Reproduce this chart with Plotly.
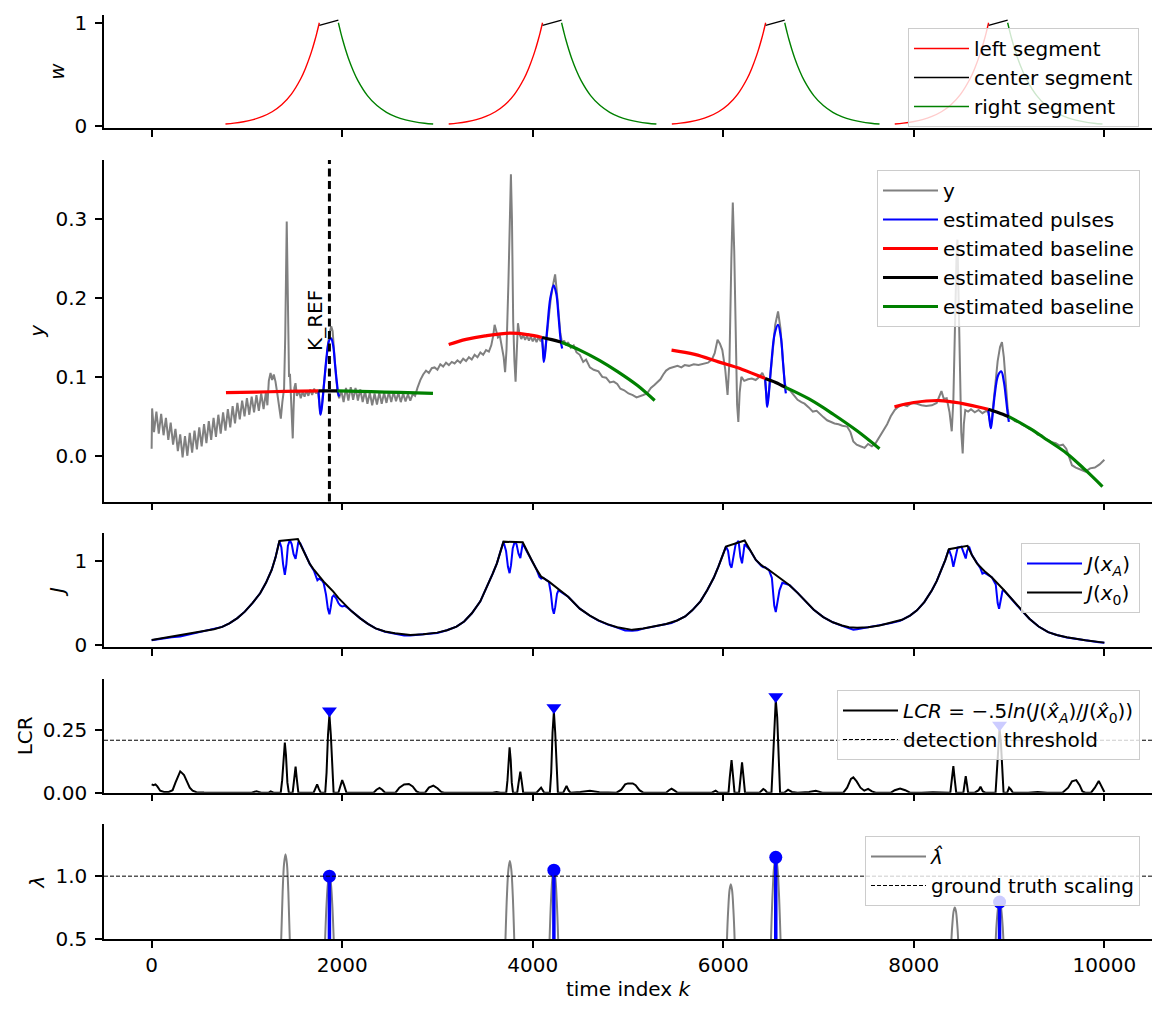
import plotly.graph_objects as go

# ---------------- data ----------------
X_TICKS = [0, 2000, 4000, 6000, 8000, 10000]
X_TICK_TEXT = ["0", "2000", "4000", "6000", "8000", "10000"]
X_RANGE = [-500, 10500]
K_REF = 1866

# weighting windows (relative offsets to window centres)
WIN_CENTERS = [1865, 4208, 6550, 8890]
W_LEFT_OFF = [-1090, -1000, -900, -800, -700, -600, -500, -400, -300, -250, -200, -175, -150, -130, -105]
W_LEFT_VAL = [0.019, 0.028, 0.042, 0.062, 0.093, 0.138, 0.206, 0.307, 0.458, 0.560, 0.684, 0.756, 0.835, 0.905, 1.000]
W_CENTER_OFF = [-105, 95]
W_CENTER_VAL = [0.975, 1.025]
W_RIGHT_OFF = [95, 120, 140, 170, 200, 250, 300, 400, 500, 600, 700, 800, 900, 1000, 1090]
W_RIGHT_VAL = [1.000, 0.905, 0.835, 0.741, 0.657, 0.538, 0.440, 0.295, 0.198, 0.133, 0.089, 0.060, 0.040, 0.027, 0.019]

# measured signal y
Y_SIGNAL = [
    (0, 0.009), (5, 0.060), (25, 0.030), (50, 0.056), (75, 0.028), (100, 0.053), (125, 0.026),
    (150, 0.048), (175, 0.020), (200, 0.042), (225, 0.014), (250, 0.034), (275, 0.006),
    (300, 0.027), (325, -0.002), (350, 0.025), (375, 0.000), (400, 0.029), (425, 0.004),
    (450, 0.032), (475, 0.008), (500, 0.036), (525, 0.012), (550, 0.040), (575, 0.016),
    (600, 0.044), (625, 0.020), (650, 0.048), (675, 0.024), (700, 0.052), (725, 0.028),
    (750, 0.055), (775, 0.032), (800, 0.059), (825, 0.036), (850, 0.063), (875, 0.041),
    (900, 0.067), (925, 0.046), (950, 0.070), (975, 0.050), (1000, 0.073), (1025, 0.052),
    (1050, 0.075), (1075, 0.055), (1100, 0.077), (1125, 0.057), (1150, 0.079), (1175, 0.059),
    (1200, 0.081), (1215, 0.064),
    (1230, 0.095), (1248, 0.105), (1265, 0.096), (1282, 0.103), (1300, 0.094), (1320, 0.078),
    (1340, 0.058), (1356, 0.047), (1372, 0.068), (1390, 0.085), (1402, 0.150), (1411, 0.260),
    (1418, 0.297), (1425, 0.240), (1433, 0.130), (1442, 0.100), (1452, 0.104), (1462, 0.070),
    (1472, 0.030), (1481, 0.022), (1490, 0.060), (1498, 0.086), (1510, 0.092), (1525, 0.076),
    (1545, 0.083), (1565, 0.073), (1585, 0.081), (1605, 0.075), (1625, 0.083), (1645, 0.076),
    (1665, 0.084), (1685, 0.077), (1705, 0.085), (1725, 0.079), (1745, 0.083),
    (1760, 0.066), (1772, 0.053), (1785, 0.062), (1810, 0.095), (1840, 0.128), (1865, 0.155),
    (1885, 0.164), (1900, 0.158), (1915, 0.130), (1935, 0.100), (1952, 0.080), (1968, 0.073),
    (1990, 0.083), (2015, 0.068), (2040, 0.086), (2065, 0.070), (2090, 0.087), (2115, 0.071),
    (2140, 0.086), (2165, 0.070), (2190, 0.084), (2215, 0.068), (2240, 0.082), (2265, 0.066),
    (2290, 0.080), (2315, 0.064), (2340, 0.079), (2365, 0.065), (2390, 0.080), (2415, 0.066),
    (2440, 0.080), (2465, 0.067), (2490, 0.081), (2515, 0.068), (2540, 0.081), (2565, 0.069),
    (2590, 0.080), (2615, 0.068), (2640, 0.079), (2665, 0.069), (2690, 0.078), (2715, 0.070),
    (2740, 0.078), (2765, 0.076),
    (2790, 0.086), (2820, 0.096), (2850, 0.103), (2880, 0.108), (2910, 0.105), (2940, 0.111),
    (2970, 0.112), (3000, 0.109), (3030, 0.116), (3060, 0.113), (3090, 0.118), (3120, 0.115),
    (3150, 0.119), (3180, 0.117), (3210, 0.121), (3240, 0.118), (3270, 0.123), (3300, 0.120),
    (3330, 0.125), (3360, 0.122), (3390, 0.128), (3420, 0.125), (3450, 0.131), (3480, 0.128),
    (3510, 0.134), (3540, 0.132), (3565, 0.140), (3585, 0.152), (3600, 0.166), (3615, 0.158),
    (3635, 0.150), (3655, 0.152), (3675, 0.140), (3695, 0.125), (3710, 0.106), (3725, 0.135),
    (3745, 0.220), (3760, 0.320), (3771, 0.357), (3782, 0.300), (3795, 0.170), (3808, 0.120),
    (3820, 0.094), (3832, 0.130), (3845, 0.168), (3860, 0.155), (3880, 0.148), (3900, 0.153),
    (3920, 0.147), (3940, 0.152), (3960, 0.146), (3980, 0.151), (4000, 0.145), (4020, 0.150),
    (4040, 0.144), (4060, 0.150), (4080, 0.146), (4098, 0.148),
    (4108, 0.135), (4118, 0.122), (4130, 0.132), (4160, 0.170), (4190, 0.200), (4215, 0.218),
    (4235, 0.230), (4250, 0.212), (4270, 0.180), (4290, 0.155), (4310, 0.142),
    (4330, 0.146), (4350, 0.140), (4370, 0.144), (4400, 0.137), (4430, 0.140), (4460, 0.131),
    (4494, 0.128), (4530, 0.119), (4560, 0.122), (4600, 0.112), (4640, 0.109), (4690, 0.107),
    (4730, 0.100), (4770, 0.099), (4810, 0.093), (4850, 0.094), (4887, 0.091), (4920, 0.085),
    (4960, 0.083), (5005, 0.079), (5050, 0.077), (5090, 0.074), (5123, 0.075), (5160, 0.077),
    (5200, 0.079), (5240, 0.086), (5280, 0.090), (5310, 0.093), (5340, 0.097), (5370, 0.103),
    (5400, 0.108), (5437, 0.111), (5480, 0.113), (5520, 0.114), (5560, 0.112), (5595, 0.115),
    (5640, 0.114), (5690, 0.116), (5740, 0.115), (5790, 0.117), (5840, 0.118), (5880, 0.122),
    (5910, 0.130), (5940, 0.147), (5965, 0.142), (5990, 0.134), (6020, 0.110), (6045, 0.077),
    (6065, 0.120), (6085, 0.250), (6100, 0.321), (6115, 0.260), (6130, 0.130), (6145, 0.065),
    (6158, 0.043), (6172, 0.080), (6190, 0.100), (6220, 0.095), (6260, 0.097), (6300, 0.098),
    (6340, 0.096), (6380, 0.100), (6410, 0.105), (6435, 0.098),
    (6450, 0.080), (6462, 0.065), (6478, 0.080), (6510, 0.122), (6545, 0.166), (6575, 0.183),
    (6600, 0.162), (6625, 0.122), (6645, 0.092), (6665, 0.085),
    (6700, 0.083), (6740, 0.077), (6780, 0.071), (6820, 0.068), (6853, 0.066), (6900, 0.061),
    (6940, 0.056), (6980, 0.057), (7010, 0.053), (7050, 0.049), (7090, 0.045), (7130, 0.043),
    (7168, 0.041), (7210, 0.040), (7250, 0.038), (7300, 0.037), (7335, 0.030), (7365, 0.018),
    (7400, 0.014), (7440, 0.012), (7483, 0.010), (7520, 0.015), (7560, 0.012), (7600, 0.016),
    (7640, 0.024), (7680, 0.032), (7720, 0.040), (7758, 0.050), (7800, 0.058), (7837, 0.062),
    (7880, 0.065), (7930, 0.063), (7980, 0.067), (8033, 0.066), (8080, 0.064), (8130, 0.063),
    (8190, 0.064), (8240, 0.067), (8270, 0.076), (8290, 0.082), (8315, 0.072), (8345, 0.073),
    (8375, 0.055), (8398, 0.031), (8415, 0.070), (8435, 0.190), (8450, 0.262), (8458, 0.274),
    (8468, 0.210), (8482, 0.090), (8498, 0.030), (8513, 0.003), (8525, 0.040), (8540, 0.058),
    (8570, 0.056), (8600, 0.059), (8640, 0.055), (8680, 0.058), (8720, 0.054), (8760, 0.057),
    (8782, 0.055),
    (8795, 0.046), (8808, 0.037), (8822, 0.050), (8850, 0.085), (8880, 0.120), (8905, 0.138),
    (8925, 0.144), (8945, 0.125), (8965, 0.092), (8985, 0.060), (9000, 0.048),
    (9030, 0.048), (9060, 0.044), (9100, 0.043), (9140, 0.039), (9180, 0.037), (9213, 0.034),
    (9260, 0.032), (9300, 0.027), (9340, 0.026), (9380, 0.021), (9410, 0.020), (9450, 0.017),
    (9490, 0.016), (9530, 0.013), (9565, 0.014), (9600, 0.009), (9630, -0.002), (9660, -0.012),
    (9700, -0.015), (9750, -0.018), (9800, -0.020), (9850, -0.016), (9900, -0.015),
    (9950, -0.011), (10000, -0.005),
]

# estimated pulses
PULSES = [
    [(1751, 0.0825), (1760, 0.068), (1772, 0.052), (1785, 0.060), (1810, 0.092), (1835, 0.124),
     (1860, 0.145), (1884, 0.149), (1905, 0.140), (1925, 0.116), (1945, 0.092), (1960, 0.078),
     (1970, 0.075)],
    [(4098, 0.150), (4107, 0.134), (4116, 0.119), (4128, 0.128), (4155, 0.165), (4185, 0.200),
     (4220, 0.216), (4248, 0.205), (4272, 0.175), (4295, 0.145), (4309, 0.136)],
    [(6440, 0.098), (6450, 0.080), (6460, 0.062), (6473, 0.072), (6503, 0.115), (6540, 0.155),
     (6575, 0.166), (6605, 0.150), (6628, 0.117), (6648, 0.088), (6657, 0.079)],
    [(8781, 0.059), (8795, 0.045), (8808, 0.035), (8820, 0.044), (8850, 0.078), (8885, 0.102),
     (8918, 0.107), (8945, 0.094), (8970, 0.070), (8990, 0.049), (8998, 0.043)],
]

# estimated baselines: (left, center, right) per window
BASE_LEFT = [
    [(780, 0.0800), (1100, 0.0808), (1400, 0.0816), (1751, 0.0822)],
    [(3118, 0.141), (3300, 0.1475), (3500, 0.152), (3766, 0.1555), (3950, 0.1535), (4098, 0.150)],
    [(5457, 0.134), (5700, 0.1285), (5950, 0.119), (6200, 0.1095), (6440, 0.098)],
    [(7797, 0.062), (8000, 0.0675), (8270, 0.070), (8500, 0.0665), (8780, 0.059)],
]
BASE_CENTER = [
    [(1751, 0.0822), (1951, 0.0823)],
    [(4098, 0.150), (4200, 0.1472), (4302, 0.144)],
    [(6440, 0.098), (6550, 0.093), (6649, 0.087)],
    [(8780, 0.059), (8890, 0.0545), (8997, 0.0496)],
]
BASE_RIGHT = [
    [(1951, 0.0822), (2300, 0.0812), (2600, 0.0803), (2953, 0.0790)],
    [(4302, 0.144), (4494, 0.134), (4700, 0.121), (4887, 0.107), (5100, 0.089), (5280, 0.070)],
    [(6649, 0.087), (6900, 0.072), (7150, 0.053), (7400, 0.032), (7640, 0.009)],
    [(8997, 0.0496), (9213, 0.035), (9400, 0.020), (9606, 0.003), (9800, -0.018), (9980, -0.039)],
]

# cost J(x0)
J0 = [
    (0, 0.060), (100, 0.080), (210, 0.100), (300, 0.118), (412, 0.140), (520, 0.160), (654, 0.187),
    (740, 0.215), (816, 0.258), (900, 0.320), (978, 0.397), (1060, 0.500), (1139, 0.615),
    (1200, 0.740), (1260, 0.893), (1300, 1.040), (1341, 1.238), (1535, 1.262), (1580, 1.160),
    (1624, 1.050), (1660, 0.965), (1705, 0.893), (1760, 0.815), (1806, 0.754), (1860, 0.690),
    (1907, 0.635), (1960, 0.560), (2028, 0.476), (2100, 0.400), (2190, 0.317), (2270, 0.252),
    (2351, 0.198), (2450, 0.160), (2553, 0.139), (2630, 0.126), (2715, 0.119), (2850, 0.127),
    (2998, 0.147), (3100, 0.175), (3200, 0.218), (3280, 0.280), (3361, 0.377), (3450, 0.520),
    (3523, 0.694), (3580, 0.850), (3624, 0.972), (3660, 1.100), (3693, 1.230), (3895, 1.222),
    (3940, 1.110), (3988, 1.012), (4040, 0.900), (4089, 0.813), (4170, 0.754), (4270, 0.665),
    (4372, 0.575), (4494, 0.432), (4600, 0.350), (4690, 0.292), (4790, 0.245), (4887, 0.212),
    (5044, 0.180), (5160, 0.195), (5280, 0.220), (5400, 0.250), (5516, 0.292), (5600, 0.340),
    (5674, 0.412), (5760, 0.520), (5831, 0.652), (5900, 0.800), (5949, 0.932), (5990, 1.050),
    (6028, 1.172), (6224, 1.244), (6280, 1.130), (6342, 1.012), (6400, 0.950), (6480, 0.892),
    (6590, 0.800), (6696, 0.712), (6780, 0.620), (6853, 0.532), (6950, 0.420), (7050, 0.332),
    (7150, 0.270), (7247, 0.232), (7320, 0.212), (7404, 0.204), (7520, 0.212), (7640, 0.232),
    (7760, 0.262), (7876, 0.300), (7960, 0.350), (8033, 0.412), (8110, 0.510), (8190, 0.652),
    (8240, 0.760), (8289, 0.892), (8330, 1.010), (8368, 1.140), (8564, 1.180), (8610, 1.070),
    (8663, 0.972), (8740, 0.880), (8820, 0.804), (8940, 0.660), (9056, 0.512), (9140, 0.400),
    (9213, 0.312), (9310, 0.220), (9410, 0.152), (9500, 0.118), (9606, 0.092), (9800, 0.055),
    (10000, 0.028),
]

# cost J(xA)
JA = [
    (0, 0.055), (100, 0.074), (210, 0.092), (300, 0.101), (412, 0.128), (520, 0.158), (654, 0.187),
    (740, 0.215), (816, 0.258), (900, 0.320), (978, 0.397), (1060, 0.500), (1139, 0.615),
    (1200, 0.740), (1260, 0.893), (1300, 1.040), (1341, 1.238), (1362, 1.160), (1380, 0.960),
    (1398, 0.835), (1414, 0.960), (1430, 1.180), (1450, 1.250), (1470, 1.200), (1490, 1.080),
    (1511, 1.024), (1525, 1.120), (1540, 1.230), (1560, 1.210), (1580, 1.160), (1624, 1.050),
    (1660, 0.965), (1705, 0.880), (1725, 0.800), (1740, 0.770), (1760, 0.790), (1790, 0.765),
    (1806, 0.735), (1830, 0.600), (1850, 0.430), (1866, 0.365), (1880, 0.450), (1895, 0.570),
    (1910, 0.590), (1935, 0.560), (1960, 0.500), (1980, 0.470), (2000, 0.458), (2028, 0.466),
    (2060, 0.440), (2100, 0.400), (2190, 0.317), (2270, 0.252), (2351, 0.197), (2450, 0.158),
    (2553, 0.134), (2650, 0.114), (2715, 0.114), (2850, 0.125), (2998, 0.144), (3100, 0.175),
    (3200, 0.218), (3280, 0.280), (3361, 0.377), (3450, 0.520), (3523, 0.694), (3580, 0.850),
    (3624, 0.972), (3660, 1.100), (3693, 1.230), (3720, 1.120), (3740, 0.930), (3757, 0.855),
    (3772, 0.950), (3790, 1.150), (3810, 1.226), (3830, 1.200), (3850, 1.090), (3870, 1.035),
    (3885, 1.120), (3895, 1.210), (3940, 1.110), (3988, 1.012), (4040, 0.900), (4070, 0.810),
    (4089, 0.790), (4110, 0.800), (4170, 0.750), (4190, 0.620), (4208, 0.430), (4222, 0.372),
    (4236, 0.450), (4255, 0.610), (4270, 0.650), (4300, 0.630), (4340, 0.600), (4355, 0.585),
    (4372, 0.575), (4494, 0.432), (4600, 0.348), (4690, 0.290), (4790, 0.243), (4887, 0.207),
    (4970, 0.172), (5044, 0.168), (5100, 0.175), (5160, 0.195), (5280, 0.220), (5400, 0.249),
    (5457, 0.262), (5516, 0.292), (5600, 0.340), (5674, 0.412), (5760, 0.520), (5831, 0.652),
    (5900, 0.800), (5949, 0.932), (5990, 1.050), (6028, 1.172), (6050, 1.120), (6070, 0.960),
    (6087, 0.920), (6105, 1.020), (6130, 1.200), (6160, 1.240), (6180, 1.050), (6197, 0.972),
    (6212, 1.080), (6224, 1.200), (6280, 1.130), (6342, 1.012), (6400, 0.940), (6420, 0.925),
    (6440, 0.925), (6480, 0.892), (6510, 0.800), (6535, 0.470), (6551, 0.392), (6567, 0.480),
    (6590, 0.650), (6620, 0.740), (6696, 0.712), (6780, 0.620), (6853, 0.532), (6950, 0.418),
    (7050, 0.332), (7150, 0.270), (7247, 0.228), (7320, 0.195), (7365, 0.181), (7404, 0.188),
    (7460, 0.200), (7520, 0.208), (7640, 0.232), (7760, 0.260), (7856, 0.288), (7876, 0.298),
    (7960, 0.350), (8033, 0.412), (8110, 0.510), (8190, 0.652), (8240, 0.760), (8289, 0.892),
    (8330, 1.010), (8368, 1.140), (8395, 1.050), (8415, 0.930), (8432, 1.030), (8460, 1.160),
    (8500, 1.170), (8530, 1.060), (8545, 1.030), (8560, 1.120), (8580, 1.170), (8610, 1.070),
    (8663, 0.972), (8700, 0.910), (8720, 0.850), (8740, 0.860), (8820, 0.804), (8860, 0.720),
    (8880, 0.500), (8895, 0.432), (8910, 0.520), (8930, 0.640), (8945, 0.650), (8990, 0.590),
    (9056, 0.512), (9140, 0.400), (9213, 0.312), (9310, 0.220), (9410, 0.152), (9500, 0.118),
    (9606, 0.090), (9705, 0.068), (9800, 0.055), (9941, 0.032), (10000, 0.028),
]

# log-cost ratio
LCR = [
    (0, 0.033), (20, 0.030), (40, 0.033), (60, 0.025), (90, 0.008), (130, 0.003), (180, 0.003),
    (220, 0.010), (250, 0.040), (270, 0.060), (300, 0.085), (320, 0.078), (340, 0.070),
    (370, 0.045), (400, 0.020), (430, 0.008), (470, 0.002), (550, 0.001), (700, 0.000),
    (1050, 0.000), (1100, 0.006), (1150, 0.000), (1230, 0.000), (1250, 0.005), (1280, 0.000),
    (1355, 0.000), (1370, 0.050), (1385, 0.150), (1398, 0.200), (1410, 0.150), (1425, 0.040),
    (1440, 0.000), (1480, 0.000), (1495, 0.050), (1511, 0.104), (1525, 0.050), (1540, 0.000),
    (1700, 0.000), (1720, 0.015), (1737, 0.033), (1755, 0.015), (1775, 0.000), (1822, 0.000),
    (1836, 0.080), (1851, 0.230), (1866, 0.310), (1881, 0.230), (1896, 0.080), (1910, 0.000),
    (1960, 0.000), (1980, 0.030), (2000, 0.050), (2020, 0.030), (2045, 0.000), (2330, 0.000),
    (2360, 0.012), (2392, 0.019), (2420, 0.012), (2450, 0.000), (2560, 0.000), (2600, 0.020),
    (2650, 0.033), (2700, 0.035), (2740, 0.025), (2780, 0.005), (2810, 0.000), (2870, 0.000),
    (2910, 0.020), (2957, 0.028), (3000, 0.018), (3040, 0.003), (3070, 0.000), (3580, 0.000),
    (3620, 0.003), (3660, 0.000), (3722, 0.000), (3735, 0.050), (3745, 0.130), (3757, 0.181),
    (3769, 0.130), (3780, 0.040), (3793, 0.000), (3837, 0.000), (3852, 0.040), (3870, 0.084),
    (3886, 0.040), (3900, 0.000), (4040, 0.000), (4070, 0.015), (4088, 0.020), (4105, 0.010),
    (4120, 0.000), (4180, 0.000), (4194, 0.080), (4208, 0.240), (4222, 0.323), (4236, 0.240),
    (4250, 0.080), (4264, 0.000), (4320, 0.000), (4340, 0.020), (4355, 0.027), (4375, 0.010),
    (4395, 0.000), (4500, 0.003), (4600, 0.008), (4700, 0.002), (4880, 0.000), (4930, 0.012),
    (4970, 0.033), (5000, 0.037), (5050, 0.037), (5080, 0.030), (5120, 0.010), (5160, 0.000),
    (5400, 0.000), (5430, 0.010), (5457, 0.016), (5490, 0.008), (5520, 0.000), (5880, 0.000),
    (5920, 0.008), (5950, 0.000), (6055, 0.000), (6068, 0.060), (6087, 0.130), (6104, 0.060),
    (6118, 0.000), (6166, 0.000), (6180, 0.060), (6197, 0.121), (6213, 0.060), (6228, 0.000),
    (6380, 0.000), (6405, 0.012), (6420, 0.015), (6440, 0.010), (6460, 0.000), (6506, 0.000),
    (6521, 0.120), (6536, 0.300), (6551, 0.370), (6566, 0.300), (6581, 0.120), (6596, 0.000),
    (6640, 0.000), (6680, 0.012), (6720, 0.003), (6780, 0.000), (6900, 0.003), (6970, 0.008),
    (7040, 0.000), (7260, 0.000), (7300, 0.020), (7340, 0.055), (7365, 0.061), (7400, 0.045),
    (7440, 0.020), (7480, 0.008), (7520, 0.015), (7560, 0.005), (7600, 0.000), (7760, 0.000),
    (7800, 0.010), (7856, 0.017), (7910, 0.010), (7960, 0.000), (8080, 0.000), (8200, 0.002),
    (8383, 0.000), (8399, 0.050), (8415, 0.106), (8430, 0.050), (8445, 0.000), (8520, 0.000),
    (8531, 0.030), (8545, 0.066), (8559, 0.030), (8570, 0.000), (8640, 0.000), (8680, 0.010),
    (8700, 0.024), (8725, 0.005), (8750, 0.000), (8858, 0.000), (8871, 0.080), (8886, 0.200),
    (8900, 0.255), (8914, 0.200), (8929, 0.080), (8942, 0.000), (8980, 0.000), (9000, 0.020),
    (9020, 0.012), (9040, 0.000), (9200, 0.000), (9300, 0.003), (9400, 0.000), (9560, 0.000),
    (9620, 0.020), (9660, 0.045), (9705, 0.050), (9740, 0.030), (9770, 0.005), (9800, 0.000),
    (9860, 0.000), (9900, 0.020), (9941, 0.047), (9970, 0.025), (10000, 0.003),
]
LCR_THRESHOLD = 0.209

# detections
DET_K = [1866, 4222, 6551, 8900]
DET_LCR = [0.327, 0.339, 0.383, 0.270]
DET_LAMBDA = [1.000, 1.048, 1.150, 0.794]

# estimated scaling lambda-hat (humps; values below 0.5 fall outside view)
LAMBDA_HAT = [
    (0, 0.0), (1345, 0.0), (1360, 0.5), (1375, 0.874), (1390, 1.099), (1405, 1.174), (1420, 1.099),
    (1435, 0.874), (1450, 0.5), (1465, 0.0),
    (1800, 0.0), (1821, 0.5), (1836, 0.778), (1851, 0.944), (1866, 1.0), (1881, 0.944),
    (1896, 0.778), (1911, 0.5), (1932, 0.0),
    (3698, 0.0), (3714, 0.5), (3730, 0.856), (3745, 1.054), (3760, 1.12), (3775, 1.054),
    (3790, 0.856), (3806, 0.5), (3822, 0.0),
    (4160, 0.0), (4177, 0.5), (4192, 0.806), (4207, 0.989), (4222, 1.05), (4237, 0.989),
    (4252, 0.806), (4267, 0.5), (4284, 0.0),
    (6025, 0.0), (6039, 0.5), (6052, 0.737), (6066, 0.89), (6079, 0.936), (6092, 0.89),
    (6106, 0.737), (6119, 0.5), (6133, 0.0),
    (6485, 0.0), (6501, 0.5), (6518, 0.867), (6534, 1.075), (6551, 1.15), (6568, 1.075),
    (6584, 0.867), (6601, 0.5), (6617, 0.0),
    (8383, 0.0), (8395, 0.5), (8407, 0.642), (8418, 0.722), (8430, 0.75), (8442, 0.722),
    (8453, 0.642), (8465, 0.5), (8477, 0.0),
    (8846, 0.0), (8860, 0.5), (8873, 0.662), (8887, 0.761), (8900, 0.794), (8913, 0.761),
    (8927, 0.662), (8940, 0.5), (8954, 0.0),
    (10000, 0.0),
]
LAMBDA_TRUE = 1.0

# ---------------- figure ----------------
FONT = dict(family="DejaVu Sans", size=20, color="black")
RED, GREEN, BLUE, GREY = "#ff0000", "#008000", "#0000ff", "#808080"

def xs(pts):
    return [p[0] for p in pts]

def ys(pts):
    return [p[1] for p in pts]

fig = go.Figure()

# ---- panel 1: weights ----
for i, c in enumerate(WIN_CENTERS):
    fig.add_trace(go.Scatter(x=[c + o for o in W_LEFT_OFF], y=W_LEFT_VAL, mode="lines",
                             line=dict(color=RED, width=1.4, shape="spline"), name="left segment",
                             showlegend=(i == 0), legend="legend", xaxis="x", yaxis="y"))
    fig.add_trace(go.Scatter(x=[c + o for o in W_CENTER_OFF], y=W_CENTER_VAL, mode="lines",
                             line=dict(color="black", width=1.4), name="center segment",
                             showlegend=(i == 0), legend="legend", xaxis="x", yaxis="y",
                             legendrank=1001))
    fig.add_trace(go.Scatter(x=[c + o for o in W_RIGHT_OFF], y=W_RIGHT_VAL, mode="lines",
                             line=dict(color=GREEN, width=1.4, shape="spline"), name="right segment",
                             showlegend=(i == 0), legend="legend", xaxis="x", yaxis="y",
                             legendrank=1002))

# ---- panel 2: signal ----
fig.add_trace(go.Scatter(x=xs(Y_SIGNAL), y=ys(Y_SIGNAL), mode="lines",
                         line=dict(color=GREY, width=2), name="y", legend="legend2",
                         xaxis="x2", yaxis="y2"))
for i, p in enumerate(PULSES):
    fig.add_trace(go.Scatter(x=xs(p), y=ys(p), mode="lines",
                             line=dict(color=BLUE, width=2.2, shape="spline"),
                             name="estimated pulses", showlegend=(i == 0), legend="legend2",
                             xaxis="x2", yaxis="y2"))
for i in range(4):
    for seg, col in ((BASE_LEFT, RED), (BASE_CENTER, "black"), (BASE_RIGHT, GREEN)):
        fig.add_trace(go.Scatter(x=xs(seg[i]), y=ys(seg[i]), mode="lines",
                                 line=dict(color=col, width=3.2, shape="spline"),
                                 name="estimated baseline", showlegend=(i == 0),
                                 legend="legend2", xaxis="x2", yaxis="y2"))

# ---- panel 3: costs ----
fig.add_trace(go.Scatter(x=xs(JA), y=ys(JA), mode="lines", line=dict(color=BLUE, width=2),
                         name="<i>J</i>(<i>x<sub>A</sub></i>)", legend="legend3",
                         xaxis="x3", yaxis="y3"))
fig.add_trace(go.Scatter(x=xs(J0), y=ys(J0), mode="lines", line=dict(color="black", width=2),
                         name="<i>J</i>(<i>x</i><sub>0</sub>)", legend="legend3",
                         xaxis="x3", yaxis="y3"))

# ---- panel 4: LCR ----
fig.add_trace(go.Scatter(x=xs(LCR), y=ys(LCR), mode="lines", line=dict(color="black", width=2),
                         name="<i>LCR</i> = −.5<i>ln</i>(<i>J</i>(<i>x̂<sub>A</sub></i>)/<i>J</i>(<i>x̂</i><sub>0</sub>))",
                         legend="legend4", xaxis="x4", yaxis="y4"))
fig.add_trace(go.Scatter(x=X_RANGE, y=[LCR_THRESHOLD, LCR_THRESHOLD], mode="lines",
                         line=dict(color="black", width=1, dash="4px,2px"),
                         name="detection threshold", legend="legend4", xaxis="x4", yaxis="y4"))
fig.add_trace(go.Scatter(x=DET_K, y=DET_LCR, mode="markers",
                         marker=dict(symbol="triangle-down", size=13, color=BLUE),
                         showlegend=False, xaxis="x4", yaxis="y4"))

# ---- panel 5: lambda ----
fig.add_trace(go.Scatter(x=xs(LAMBDA_HAT), y=ys(LAMBDA_HAT), mode="lines",
                         line=dict(color=GREY, width=2, shape="spline"), name="<i>λ̂</i>",
                         legend="legend5", xaxis="x5", yaxis="y5"))
stem_x, stem_y = [], []
for k, v in zip(DET_K, DET_LAMBDA):
    stem_x += [k, k, None]
    stem_y += [0, v, None]
fig.add_trace(go.Scatter(x=stem_x, y=stem_y, mode="lines", line=dict(color=BLUE, width=3.5),
                         showlegend=False, xaxis="x5", yaxis="y5"))
fig.add_trace(go.Scatter(x=DET_K, y=DET_LAMBDA, mode="markers",
                         marker=dict(symbol="circle", size=13, color=BLUE),
                         showlegend=False, xaxis="x5", yaxis="y5"))
fig.add_trace(go.Scatter(x=X_RANGE, y=[LAMBDA_TRUE, LAMBDA_TRUE], mode="lines",
                         line=dict(color="black", width=1, dash="4px,2px"),
                         name="ground truth scaling", legend="legend5", xaxis="x5", yaxis="y5"))

# K_REF marker line and label
fig.add_shape(type="line", x0=K_REF, x1=K_REF, y0=0, y1=1, xref="x2", yref="y2 domain",
              line=dict(color="black", width=3, dash="8px,4.5px"), layer="above")
fig.add_annotation(x=1715, y=0.171, xref="x2", yref="y2", text="K_REF", textangle=-90,
                   showarrow=False, font=FONT)

# ---------------- layout ----------------
PLOT_TOP, PLOT_BOTTOM = 15, 939
H = PLOT_BOTTOM - PLOT_TOP

def dom(top_px, bottom_px):
    return [(PLOT_BOTTOM - bottom_px) / H, (PLOT_BOTTOM - top_px) / H]

def xax(anchor, labels):
    return dict(range=X_RANGE, domain=[0, 1], anchor=anchor, showline=True, linecolor="black",
                linewidth=1.5, ticks="outside", ticklen=7, tickwidth=1.5, tickcolor="black",
                tickvals=X_TICKS, ticktext=X_TICK_TEXT, showticklabels=labels, showgrid=False,
                zeroline=False, tickfont=FONT)

def yax(anchor, rng, domain, tickvals, fmt, title):
    return dict(range=rng, domain=domain, anchor=anchor, showline=True, linecolor="black",
                linewidth=1.5, ticks="outside", ticklen=7, tickwidth=1.5, tickcolor="black",
                tickvals=tickvals, tickformat=fmt, showgrid=False, zeroline=False,
                tickfont=FONT, ticklabelstandoff=4,
                title=dict(text=title, font=FONT, standoff=5))

def legend_at(x_px, top_px):
    return dict(x=(x_px - 104) / 1048, y=(PLOT_BOTTOM - top_px) / H, xanchor="right",
                yanchor="top", bgcolor="rgba(255,255,255,0.8)", bordercolor="#cccccc",
                borderwidth=1, font=FONT, itemwidth=55)

fig.update_layout(
    width=1165, height=1017,
    margin=dict(l=104, r=13, t=PLOT_TOP, b=1017 - PLOT_BOTTOM),
    paper_bgcolor="white", plot_bgcolor="white", font=FONT,
    xaxis=xax("y", False),
    xaxis2=xax("y2", False),
    xaxis3=xax("y3", False),
    xaxis4=xax("y4", False),
    xaxis5=dict(xax("y5", True), title=dict(text="time index <i>k</i>", font=FONT, standoff=6)),
    yaxis=yax("x", [-0.022, 1.075], dom(15, 128.3), [0, 1], "d", "<i>w</i>"),
    yaxis2=yax("x2", [-0.058, 0.375], dom(160, 501.5), [0.0, 0.1, 0.2, 0.3], ".1f", "<i>y</i>"),
    yaxis3=yax("x3", [-0.024, 1.333], dom(533, 647), [0, 1], "d", "<i>J</i>"),
    yaxis4=yax("x4", [0, 0.453], dom(679, 792.7), [0, 0.25], ".2f", "LCR"),
    yaxis5=yax("x5", [0.5, 1.415], dom(824, 939), [0.5, 1.0], ".1f", "<i>λ</i>"),
    legend=legend_at(1139, 28),
    legend2=legend_at(1140, 170),
    legend3=legend_at(1140, 543),
    legend4=legend_at(1140, 690),
    legend5=legend_at(1140, 836),
)

fig.write_html("out.html")
